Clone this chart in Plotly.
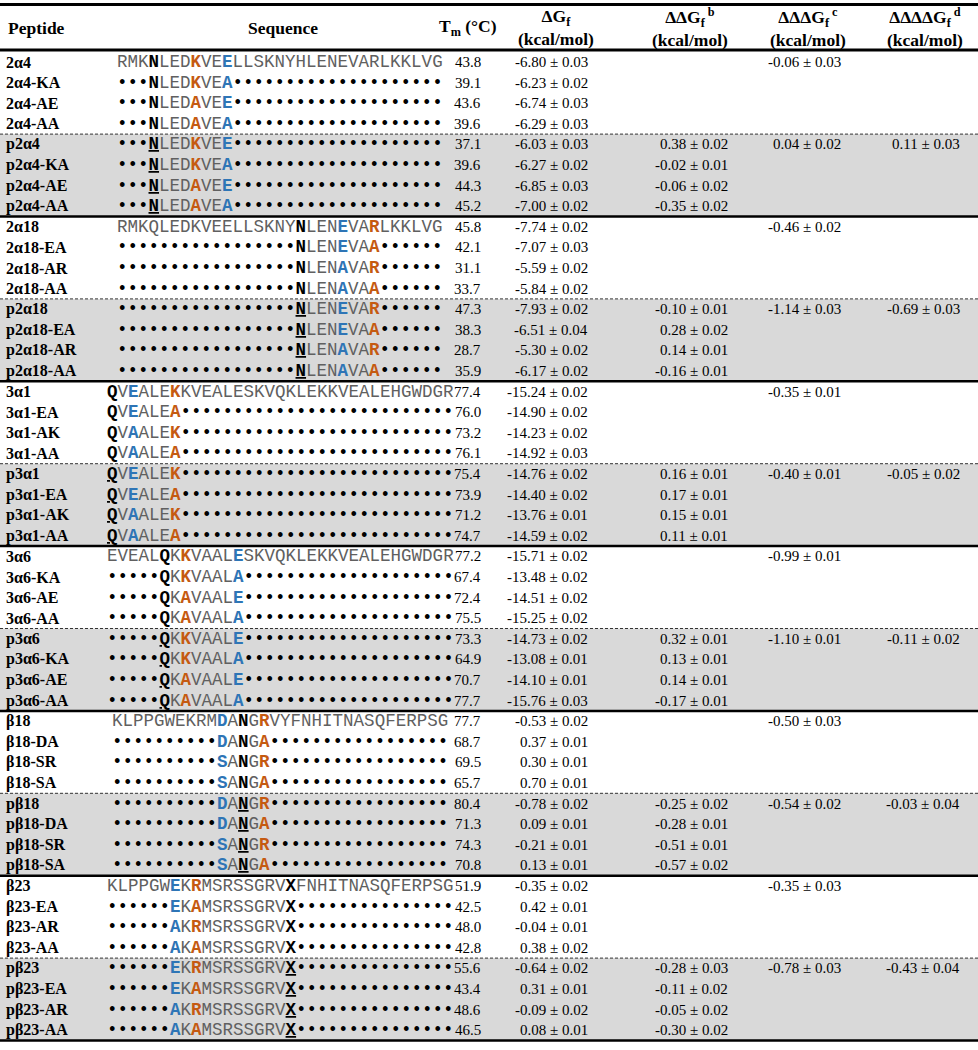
import plotly.graph_objects as go

# ---------------- data ----------------
peptides = [
    "2α4", "2α4-KA", "2α4-AE", "2α4-AA", "p2α4", "p2α4-KA", "p2α4-AE", "p2α4-AA",
    "2α18", "2α18-EA", "2α18-AR", "2α18-AA", "p2α18", "p2α18-EA", "p2α18-AR", "p2α18-AA",
    "3α1", "3α1-EA", "3α1-AK", "3α1-AA", "p3α1", "p3α1-EA", "p3α1-AK", "p3α1-AA",
    "3α6", "3α6-KA", "3α6-AE", "3α6-AA", "p3α6", "p3α6-KA", "p3α6-AE", "p3α6-AA",
    "β18", "β18-DA", "β18-SR", "β18-SA", "pβ18", "pβ18-DA", "pβ18-SR", "pβ18-SA",
    "β23", "β23-EA", "β23-AR", "β23-AA", "pβ23", "pβ23-EA", "pβ23-AR", "pβ23-AA",
]

# markup: [X] bold black, [_X] underlined bold black, {X} bold orange, (X) bold blue, '.' = dot
sequences = [
    "RMK[N]LED{K}VE(E)LLSKNYHLENEVARLKKLVG",
    "...[N]LED{K}VE(A)" + "." * 20,
    "...[N]LED{A}VE(E)" + "." * 20,
    "...[N]LED{A}VE(A)" + "." * 20,
    "...[_N]LED{K}VE(E)" + "." * 20,
    "...[_N]LED{K}VE(A)" + "." * 20,
    "...[_N]LED{A}VE(E)" + "." * 20,
    "...[_N]LED{A}VE(A)" + "." * 20,
    "RMKQLEDKVEELLSKNY[N]LEN(E)VA{R}LKKLVG",
    "." * 17 + "[N]LEN(E)VA{A}" + "." * 6,
    "." * 17 + "[N]LEN(A)VA{R}" + "." * 6,
    "." * 17 + "[N]LEN(A)VA{A}" + "." * 6,
    "." * 17 + "[_N]LEN(E)VA{R}" + "." * 6,
    "." * 17 + "[_N]LEN(E)VA{A}" + "." * 6,
    "." * 17 + "[_N]LEN(A)VA{R}" + "." * 6,
    "." * 17 + "[_N]LEN(A)VA{A}" + "." * 6,
    "[Q]V(E)ALE{K}KVEALESKVQKLEKKVEALEHGWDGR",
    "[Q]V(E)ALE{A}" + "." * 26,
    "[Q]V(A)ALE{K}" + "." * 26,
    "[Q]V(A)ALE{A}" + "." * 26,
    "[_Q]V(E)ALE{K}" + "." * 26,
    "[_Q]V(E)ALE{A}" + "." * 26,
    "[_Q]V(A)ALE{K}" + "." * 26,
    "[_Q]V(A)ALE{A}" + "." * 26,
    "EVEAL[Q]K{K}VAAL(E)SKVQKLEKKVEALEHGWDGR",
    "." * 5 + "[Q]K{K}VAAL(A)" + "." * 20,
    "." * 5 + "[Q]K{A}VAAL(E)" + "." * 20,
    "." * 5 + "[Q]K{A}VAAL(A)" + "." * 20,
    "." * 5 + "[_Q]K{K}VAAL(E)" + "." * 20,
    "." * 5 + "[_Q]K{K}VAAL(A)" + "." * 20,
    "." * 5 + "[_Q]K{A}VAAL(E)" + "." * 20,
    "." * 5 + "[_Q]K{A}VAAL(A)" + "." * 20,
    "KLPPGWEKRM(D)A[N]G{R}VYFNHITNASQFERPSG",
    "." * 10 + "(D)A[N]G{A}" + "." * 17,
    "." * 10 + "(S)A[N]G{R}" + "." * 17,
    "." * 10 + "(S)A[N]G{A}" + "." * 17,
    "." * 10 + "(D)A[_N]G{R}" + "." * 17,
    "." * 10 + "(D)A[_N]G{A}" + "." * 17,
    "." * 10 + "(S)A[_N]G{R}" + "." * 17,
    "." * 10 + "(S)A[_N]G{A}" + "." * 17,
    "KLPPGW(E)K{R}MSRSSGRV[X]FNHITNASQFERPSG",
    "." * 6 + "(E)K{A}MSRSSGRV[X]" + "." * 15,
    "." * 6 + "(A)K{R}MSRSSGRV[X]" + "." * 15,
    "." * 6 + "(A)K{A}MSRSSGRV[X]" + "." * 15,
    "." * 6 + "(E)K{R}MSRSSGRV[_X]" + "." * 15,
    "." * 6 + "(E)K{A}MSRSSGRV[_X]" + "." * 15,
    "." * 6 + "(A)K{R}MSRSSGRV[_X]" + "." * 15,
    "." * 6 + "(A)K{A}MSRSSGRV[_X]" + "." * 15,
]

tm = [
    "43.8", "39.1", "43.6", "39.6", "37.1", "39.6", "44.3", "45.2",
    "45.8", "42.1", "31.1", "33.7", "47.3", "38.3", "28.7", "35.9",
    "77.4", "76.0", "73.2", "76.1", "75.4", "73.9", "71.2", "74.7",
    "77.2", "67.4", "72.4", "75.5", "73.3", "64.9", "70.7", "77.7",
    "77.7", "68.7", "69.5", "65.7", "80.4", "71.3", "74.3", "70.8",
    "51.9", "42.5", "48.0", "42.8", "55.6", "43.4", "48.6", "46.5",
]

dg = [
    "-6.80 ± 0.03", "-6.23 ± 0.02", "-6.74 ± 0.03", "-6.29 ± 0.03",
    "-6.03 ± 0.03", "-6.27 ± 0.02", "-6.85 ± 0.03", "-7.00 ± 0.02",
    "-7.74 ± 0.02", "-7.07 ± 0.03", "-5.59 ± 0.02", "-5.84 ± 0.02",
    "-7.93 ± 0.02", "-6.51 ± 0.04", "-5.30 ± 0.02", "-6.17 ± 0.02",
    "-15.24 ± 0.02", "-14.90 ± 0.02", "-14.23 ± 0.02", "-14.92 ± 0.03",
    "-14.76 ± 0.02", "-14.40 ± 0.02", "-13.76 ± 0.01", "-14.59 ± 0.02",
    "-15.71 ± 0.02", "-13.48 ± 0.02", "-14.51 ± 0.02", "-15.25 ± 0.02",
    "-14.73 ± 0.02", "-13.08 ± 0.01", "-14.10 ± 0.01", "-15.76 ± 0.03",
    "-0.53 ± 0.02", "0.37 ± 0.01", "0.30 ± 0.01", "0.70 ± 0.01",
    "-0.78 ± 0.02", "0.09 ± 0.01", "-0.21 ± 0.01", "0.13 ± 0.01",
    "-0.35 ± 0.02", "0.42 ± 0.01", "-0.04 ± 0.01", "0.38 ± 0.02",
    "-0.64 ± 0.02", "0.31 ± 0.01", "-0.09 ± 0.02", "0.08 ± 0.01",
]

ddg = [
    "", "", "", "", "0.38 ± 0.02", "-0.02 ± 0.01", "-0.06 ± 0.02", "-0.35 ± 0.02",
    "", "", "", "", "-0.10 ± 0.01", "0.28 ± 0.02", "0.14 ± 0.01", "-0.16 ± 0.01",
    "", "", "", "", "0.16 ± 0.01", "0.17 ± 0.01", "0.15 ± 0.01", "0.11 ± 0.01",
    "", "", "", "", "0.32 ± 0.01", "0.13 ± 0.01", "0.14 ± 0.01", "-0.17 ± 0.01",
    "", "", "", "", "-0.25 ± 0.02", "-0.28 ± 0.01", "-0.51 ± 0.01", "-0.57 ± 0.02",
    "", "", "", "", "-0.28 ± 0.03", "-0.11 ± 0.02", "-0.05 ± 0.02", "-0.30 ± 0.02",
]

dddg = [
    "-0.06 ± 0.03", "", "", "", "0.04 ± 0.02", "", "", "",
    "-0.46 ± 0.02", "", "", "", "-1.14 ± 0.03", "", "", "",
    "-0.35 ± 0.01", "", "", "", "-0.40 ± 0.01", "", "", "",
    "-0.99 ± 0.01", "", "", "", "-1.10 ± 0.01", "", "", "",
    "-0.50 ± 0.03", "", "", "", "-0.54 ± 0.02", "", "", "",
    "-0.35 ± 0.03", "", "", "", "-0.78 ± 0.03", "", "", "",
]

ddddg = [
    "", "", "", "", "0.11 ± 0.03", "", "", "",
    "", "", "", "", "-0.69 ± 0.03", "", "", "",
    "", "", "", "", "-0.05 ± 0.02", "", "", "",
    "", "", "", "", "-0.11 ± 0.02", "", "", "",
    "", "", "", "", "-0.03 ± 0.04", "", "", "",
    "", "", "", "", "-0.43 ± 0.04", "", "", "",
]

headers = [
    "Peptide", "Sequence", "T<sub>m</sub> (°C)",
    "ΔG<sub>f</sub><br>(kcal/mol)",
    "ΔΔG<sub>f</sub><sup> b</sup><br>(kcal/mol)",
    "ΔΔΔG<sub>f</sub><sup> c</sup><br>(kcal/mol)",
    "ΔΔΔΔG<sub>f</sub><sup> d</sup><br>(kcal/mol)",
]

# ---------------- layout / style ----------------
W, H = 978, 1050
ROW0, ROWH = 62.0, 20.6
SERIF = "Liberation Serif, Times New Roman, serif"
MONO = "Liberation Mono, Courier New, monospace"
GRAY_TXT = "#606060"
ORANGE = "#c55a11"
BLUE = "#2e75b6"
BAND = "#d9d9d9"


def yc(i):
    return ROW0 + i * ROWH


def markup(s):
    out = []
    plain = ""
    dots = ""

    def flush():
        nonlocal plain, dots
        if plain:
            out.append(f"<span style='color:{GRAY_TXT}'>{plain}</span>")
            plain = ""
        if dots:
            out.append(f"<span style='color:#000000'>{dots}</span>")
            dots = ""

    i = 0
    closing = {"[": "]", "{": "}", "(": ")"}
    colors = {"[": "#000000", "{": ORANGE, "(": BLUE}
    while i < len(s):
        c = s[i]
        if c == ".":
            if plain:
                flush()
            dots += "•"
            i += 1
        elif c in closing:
            flush()
            j = s.index(closing[c], i)
            inner = s[i + 1:j]
            col = colors[c]
            if inner.startswith("_"):
                out.append(f"<b><u><span style='color:{col}'>{inner[1:]}</span></u></b>")
            else:
                out.append(f"<b><span style='color:{col}'>{inner}</span></b>")
            i = j + 1
        else:
            if dots:
                flush()
            plain += c
            i += 1
    flush()
    return "".join(out)


fig = go.Figure()
shapes = []
annotations = []

n = len(peptides)
# gray bands for phosphorylated blocks
for g in range(0, n, 8):
    y0 = (yc(g + 3) + yc(g + 4)) / 2
    y1 = (yc(g + 7) + yc(g + 8)) / 2
    shapes.append(dict(type="rect", xref="x", yref="y", x0=0, x1=W, y0=y0, y1=y1,
                       fillcolor=BAND, line=dict(width=0), layer="below"))

# rule lines
shapes.append(dict(type="line", xref="x", yref="y", x0=0, x1=W, y0=4.5, y1=4.5,
                   line=dict(color="black", width=3)))
shapes.append(dict(type="line", xref="x", yref="y", x0=0, x1=W, y0=50, y1=50,
                   line=dict(color="black", width=3)))
for g in range(0, n, 8):
    yd = (yc(g + 3) + yc(g + 4)) / 2
    shapes.append(dict(type="line", xref="x", yref="y", x0=0, x1=W, y0=yd, y1=yd,
                       line=dict(color="#333333", width=1, dash="3px,2px")))
    ys = (yc(g + 7) + yc(g + 8)) / 2
    shapes.append(dict(type="line", xref="x", yref="y", x0=0, x1=W, y0=ys, y1=ys,
                       line=dict(color="black", width=2.5)))

# header
hdr_pos = [(6, "left"), (283, "center"), (468, "center"), (556, "center"),
           (690, "center"), (808, "center"), (925, "center")]
for (hx, anc), txt in zip(hdr_pos, headers):
    annotations.append(dict(x=hx, y=27.5, xref="x", yref="y", text=f"<b>{txt}</b>",
                            showarrow=False, xanchor=anc, yanchor="middle",
                            align="center",
                            font=dict(family=SERIF, size=17.5, color="black")))

# body
cols = [(483, tm), (590, dg), (730, ddg), (843, dddg), (962, ddddg)]
for i in range(n):
    y = yc(i)
    annotations.append(dict(x=4, y=y, xref="x", yref="y", text=f"<b>{peptides[i]}</b>",
                            showarrow=False, xanchor="left", yanchor="middle",
                            font=dict(family=SERIF, size=16, color="black")))
    annotations.append(dict(x=280, y=y, xref="x", yref="y", text=markup(sequences[i]),
                            showarrow=False, xanchor="center", yanchor="middle",
                            font=dict(family=MONO, size=17.5, color="black")))
    for cx, vals in cols:
        if vals[i]:
            annotations.append(dict(x=cx, y=y, xref="x", yref="y", text=vals[i],
                                    showarrow=False, xanchor="right", yanchor="middle",
                                    font=dict(family=SERIF, size=15, color="black")))

fig.update_layout(
    width=W, height=H,
    margin=dict(l=0, r=0, t=0, b=0),
    paper_bgcolor="white", plot_bgcolor="white",
    xaxis=dict(range=[0, W], visible=False, fixedrange=True),
    yaxis=dict(range=[H, 0], visible=False, fixedrange=True),
    shapes=shapes, annotations=annotations,
    showlegend=False,
)

fig.write_html(
    "out.html",
    config={"displayModeBar": False},
    post_script="document.body.style.margin='0';document.body.style.overflow='hidden';",
)
